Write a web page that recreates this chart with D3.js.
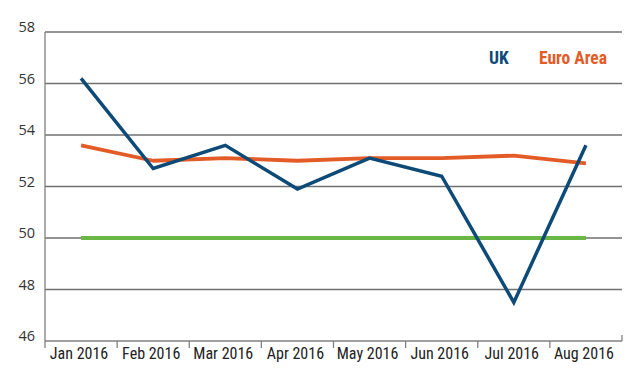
<!DOCTYPE html>
<html>
<head>
<meta charset="utf-8">
<script src="https://cdn.jsdelivr.net/npm/d3@7"></script>
<style>
  html, body { margin: 0; padding: 0; background: #fff; }
  svg { display: block; }
</style>
</head>
<body>
<svg id="chart" width="640" height="375"></svg>
<script>
const months = ["Jan 2016", "Feb 2016", "Mar 2016", "Apr 2016", "May 2016", "Jun 2016", "Jul 2016", "Aug 2016"];
const ukValues = [56.2, 52.7, 53.6, 51.9, 53.1, 52.4, 47.5, 53.6];
const euroValues = [53.6, 53.0, 53.1, 53.0, 53.1, 53.1, 53.2, 52.9];
const thresholdValues = [50, 50, 50, 50, 50, 50, 50, 50];
const yTicks = [46, 48, 50, 52, 54, 56, 58];
const seriesNames = ["UK", "Euro Area"];

const svg = d3.select("#chart");
const mLeft = 45, mRight = 622, mTop = 32, mBottom = 341;

const x = d3.scaleBand().domain(months).range([mLeft, mRight]).paddingInner(0).paddingOuter(0);
const y = d3.scaleLinear().domain([46, 58]).range([mBottom, mTop]);
const cx = d => x(d) + x.bandwidth() / 2;

const narrow = "'Liberation Sans Narrow', 'Roboto Condensed', 'Arial Narrow', sans-serif";

// gridlines
svg.append("g").selectAll("line").data(yTicks.filter(t => t > 46)).join("line")
  .attr("x1", mLeft).attr("x2", mRight)
  .attr("y1", d => y(d)).attr("y2", d => y(d))
  .attr("stroke", "#707070").attr("stroke-width", 1.3);

// y axis labels
svg.append("g").selectAll("text").data(yTicks).join("text")
  .attr("x", 35).attr("y", d => y(d) - 5.3)
  .attr("text-anchor", "end").attr("dominant-baseline", "central")
  .attr("font-family", "'Open Sans', 'DejaVu Sans', sans-serif")
  .attr("font-size", 14.5).attr("fill", "#333")
  .text(d => d);

// y axis line
svg.append("line").attr("x1", mLeft).attr("x2", mLeft).attr("y1", mTop).attr("y2", mBottom + 7)
  .attr("stroke", "#808080").attr("stroke-width", 1.3);
// x axis line
svg.append("line").attr("x1", mLeft).attr("x2", mRight).attr("y1", mBottom).attr("y2", mBottom)
  .attr("stroke", "#808080").attr("stroke-width", 1.5);
// category boundary ticks
svg.append("g").selectAll("line").data(months.slice(1)).join("line")
  .attr("x1", d => x(d)).attr("x2", d => x(d))
  .attr("y1", mBottom).attr("y2", mBottom + 7)
  .attr("stroke", "#808080").attr("stroke-width", 1.3);
svg.append("line").attr("x1", mRight).attr("x2", mRight).attr("y1", mBottom - 6).attr("y2", mBottom)
  .attr("stroke", "#808080").attr("stroke-width", 1.3);

// x labels
svg.append("g").selectAll("text").data(months).join("text")
  .attr("x", d => cx(d) - 2).attr("y", 359)
  .attr("text-anchor", "middle")
  .attr("font-family", narrow).attr("font-size", 16).attr("fill", "#222")
  .text(d => d);

const line = d3.line().x((d, i) => cx(months[i])).y(d => y(d));

svg.append("path").datum(thresholdValues).attr("d", line)
  .attr("fill", "none").attr("stroke", "#6ab745").attr("stroke-width", 4);
svg.append("path").datum(euroValues).attr("d", line)
  .attr("fill", "none").attr("stroke", "#e35b26").attr("stroke-width", 3.8).attr("stroke-linejoin", "round");
svg.append("path").datum(ukValues).attr("d", line)
  .attr("fill", "none").attr("stroke", "#0e4a78").attr("stroke-width", 3.5).attr("stroke-linejoin", "miter");

// legend
svg.append("text").attr("x", 489).attr("y", 63.5)
  .attr("font-family", narrow).attr("font-weight", "bold").attr("font-size", 17.5)
  .attr("fill", "#0e4a78").text(seriesNames[0]);
svg.append("text").attr("x", 539).attr("y", 63.5)
  .attr("font-family", narrow).attr("font-weight", "bold").attr("font-size", 17.5)
  .attr("fill", "#e35b26").text(seriesNames[1]);
</script>
</body>
</html>
